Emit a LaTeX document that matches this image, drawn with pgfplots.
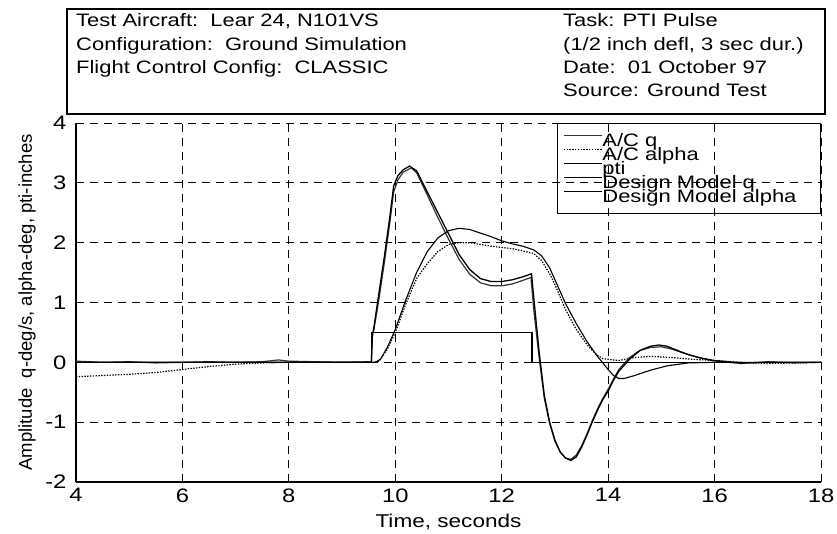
\documentclass[border=0pt]{standalone}
\usepackage{fontspec}
\setmainfont{Liberation Sans}[FakeStretch=1.22]
\newfontfamily\ylfont{Liberation Sans}
\usepackage{pgfplots}
\pgfplotsset{compat=1.18}

\begin{document}
\begin{tikzpicture}
\begin{axis}[
  scale only axis, width=745pt, height=359pt,
  xmin=4, xmax=18, ymin=-2, ymax=4,
  xtick={4,6,...,18}, ytick={-2,-1,0,1,2,3,4},
  axis lines*=left,
  axis line style={-, line width=1.3pt},
  every outer x axis line/.append style={-},
  every outer y axis line/.append style={-},
  grid=major,
  major grid style={black, line width=1pt, dash pattern=on 8pt off 6pt},
  tick align=inside, major tick length=5pt, tick style={black, line width=1pt},
  ticklabel style={font=\fontsize{19.5}{19.5}\selectfont},
  /pgf/number format/assume math mode=true,
  yticklabel style={xshift=-6pt},
  xticklabel style={yshift=-3pt},
  xlabel={Time, seconds},
  xlabel style={font=\fontsize{18.5}{18.5}\selectfont, at={(axis description cs:0.5,0)}, anchor=base, yshift=-45pt},
  ylabel={Amplitude\ \ q-deg/s, alpha-deg, pti-inches},
  ylabel style={font=\ylfont\fontsize{18.5}{18.5}\selectfont, at={(axis description cs:0,0.5)}, anchor=center, yshift=49pt},
  legend style={at={(rel axis cs:1,1)}, anchor=north east, draw=black, fill=none,
    line width=1pt, inner xsep=6pt, inner ysep=10pt,
    font=\fontsize{18}{18}\selectfont,
    nodes={inner sep=0pt, text height=13pt, text depth=1pt},
    /tikz/every even column/.append style={column sep=9pt}},
  legend cell align=left,
  legend image code/.code={\draw[#1] (0pt,5pt) -- (38pt,5pt);},
]
% A/C q
\addplot[black!80, line width=1.2pt] coordinates {
  (4,0.02) (4.5,0) (5,0.01) (5.5,-0.01) (6,0) (6.5,0.01) (7,0) (7.5,0.01)
  (7.8,0.04) (8,0.02) (8.5,0.01) (9,0) (9.5,0.01) (9.55,0)
  (9.57,0.45) (9.6,0.55) (9.7,1.1) (9.8,1.7) (9.9,2.35) (9.97,2.85)
  (10.05,3.05) (10.15,3.18) (10.3,3.25) (10.4,3.17) (10.6,2.8) (10.8,2.42)
  (11.0,2.06) (11.2,1.72) (11.4,1.47) (11.6,1.33) (11.8,1.28) (12.0,1.28)
  (12.2,1.31) (12.4,1.37) (12.55,1.42) (12.6,0.9) (12.7,0.1) (12.8,-0.6)
  (12.9,-1.02) (13.0,-1.32) (13.1,-1.5) (13.2,-1.6) (13.3,-1.62) (13.4,-1.55)
  (13.5,-1.4) (13.6,-1.2) (13.7,-0.98) (13.8,-0.78) (13.9,-0.6) (14.0,-0.45)
  (14.1,-0.28) (14.2,-0.12) (14.4,0.08) (14.6,0.2) (14.8,0.25) (15.0,0.26)
  (15.2,0.22) (15.4,0.16) (15.7,0.08) (16.0,0.02) (16.5,-0.02) (17,0.01)
  (17.5,-0.01) (18,0)
};
% A/C alpha
\addplot[black, line width=1.2pt, dash pattern=on 1.4pt off 1.4pt] coordinates {
  (4,-0.24) (4.5,-0.22) (5,-0.2) (5.5,-0.17) (6,-0.12) (6.5,-0.07) (7,-0.03)
  (7.5,-0.01) (8,0) (9.6,0) (9.7,0.02) (9.85,0.22) (10,0.5) (10.2,0.98)
  (10.4,1.4) (10.6,1.65) (10.8,1.85) (11.0,1.97) (11.2,2.0) (11.4,2.0)
  (11.6,1.97) (11.8,1.94) (12.0,1.92) (12.2,1.9) (12.4,1.86) (12.6,1.82)
  (12.75,1.7) (12.9,1.48) (13.0,1.3) (13.2,0.88) (13.4,0.55) (13.6,0.3)
  (13.75,0.15) (13.9,0.06) (14.2,0.03) (14.5,0.08) (14.8,0.1) (15.2,0.08)
  (15.6,0.05) (16,0.03) (16.5,0) (17,-0.02) (18,0)
};
% pti
\addplot[black, line width=1.2pt] coordinates {
  (4,0) (9.55,0) (9.55,0.5) (12.57,0.5) (12.57,0) (18,0)
};
% Design Model q
\addplot[black, line width=1.3pt] coordinates {
  (4,0) (9.55,0) (9.57,0.45) (9.6,0.6) (9.7,1.2) (9.8,1.8) (9.9,2.45)
  (9.97,2.95) (10.05,3.12) (10.15,3.22) (10.27,3.28) (10.4,3.2) (10.6,2.85)
  (10.8,2.5) (11.0,2.15) (11.2,1.8) (11.4,1.55) (11.6,1.4) (11.8,1.35)
  (12.0,1.35) (12.2,1.38) (12.4,1.43) (12.56,1.48) (12.6,1.1) (12.7,0.2)
  (12.8,-0.55) (12.9,-1.0) (13.0,-1.3) (13.1,-1.5) (13.2,-1.6) (13.3,-1.64)
  (13.4,-1.58) (13.5,-1.42) (13.6,-1.22) (13.7,-1.0) (13.8,-0.8) (13.9,-0.62)
  (14.0,-0.48) (14.1,-0.3) (14.2,-0.15) (14.4,0.05) (14.6,0.2) (14.8,0.27)
  (14.95,0.29) (15.1,0.27) (15.3,0.2) (15.5,0.13) (15.75,0.07) (16.0,0.03)
  (16.5,-0.01) (17,0) (18,0)
};
% Design Model alpha
\addplot[black, line width=1.1pt] coordinates {
  (4,0) (9.62,0) (9.72,0.05) (9.85,0.25) (10.0,0.55) (10.2,1.05) (10.4,1.5)
  (10.6,1.85) (10.8,2.08) (11.0,2.2) (11.2,2.24) (11.4,2.22) (11.6,2.16)
  (11.8,2.1) (12.0,2.03) (12.2,1.98) (12.4,1.94) (12.6,1.88) (12.75,1.78)
  (12.9,1.58) (13.0,1.38) (13.2,0.98) (13.4,0.65) (13.6,0.35) (13.8,0.1)
  (14.0,-0.12) (14.1,-0.22) (14.2,-0.27) (14.3,-0.27) (14.5,-0.22)
  (14.8,-0.13) (15.1,-0.06) (15.5,-0.01) (16,0) (18,0)
};
\legend{A/C q, A/C alpha, pti, Design Model q, Design Model alpha\hspace*{18pt}}
\end{axis}
% information box
\draw[line width=1.2pt] (-9pt,368pt) rectangle (749pt,473pt);
\begin{scope}[every node/.style={anchor=base west, inner sep=0pt, font=\fontsize{18}{18}\selectfont}]
\node at (0pt,455pt) {Test Aircraft:\ \ Lear 24, N101VS};
\node at (0pt,431.7pt) {Configuration:\ \ Ground Simulation};
\node at (0pt,408.4pt) {Flight Control Config:\ \ CLASSIC};
\node at (487pt,455pt) {Task: PTI Pulse};
\node at (487pt,431.7pt) {(1/2 inch defl, 3 sec dur.)};
\node at (487pt,408.4pt) {Date:\ \ 01 October 97};
\node at (487pt,385pt) {Source: Ground Test};
\end{scope}
\pgfresetboundingbox
\path[use as bounding box] (-76pt,-51pt) rectangle (761pt,482pt);
\end{tikzpicture}
\end{document}
